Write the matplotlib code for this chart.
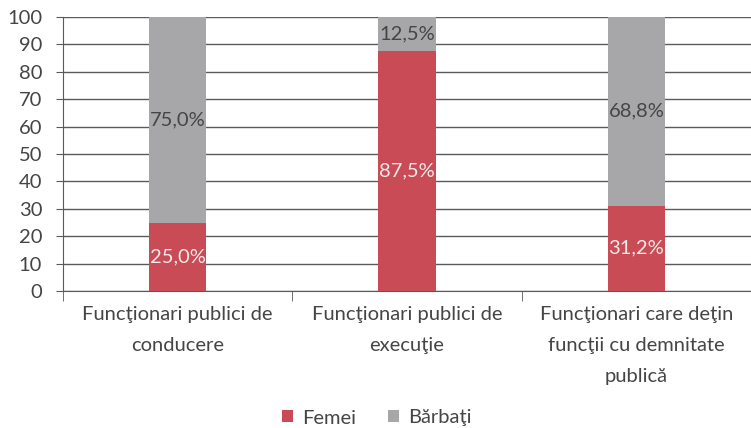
import matplotlib

matplotlib.use("Agg")
import matplotlib.pyplot as plt
import numpy as np

CATEGORIES = [
    "Funcţionari publici de\nconducere",
    "Funcţionari publici de\nexecuţie",
    "Funcţionari care deţin\nfuncţii cu demnitate\npublică",
]
FEMEI = [25.0, 87.5, 31.2]
BARBATI = [75.0, 12.5, 68.8]
SERIES_NAMES = ["Femei", "Bărbaţi"]
Y_TICKS = list(range(0, 101, 10))

RED = "#C84B55"
GRAY = "#A7A7AA"
GRID = "#5A5A5A"
TEXT = "#454545"

plt.rcParams["font.family"] = ["Lato", "DejaVu Sans"]

fig = plt.figure(figsize=(7.51, 4.28), dpi=100)
ax = fig.add_axes([63 / 751, 1 - 291 / 428, 688 / 751, 274 / 428])

x = np.arange(len(CATEGORIES))
w = 0.25
ax.bar(x, FEMEI, width=w, color=RED, zorder=3, label=SERIES_NAMES[0])
ax.bar(x, BARBATI, width=w, bottom=FEMEI, color=GRAY, zorder=3, label=SERIES_NAMES[1])

for xi, f, b in zip(x, FEMEI, BARBATI):
    ax.text(xi, f / 2, f"{f:.1f}%".replace(".", ","), ha="center", va="center",
            color="#F3E9EA", fontsize=14.5, zorder=4)
    ax.text(xi, f + b / 2, f"{b:.1f}%".replace(".", ","), ha="center", va="center",
            color=TEXT, fontsize=14.5, zorder=4)

ax.set_xlim(-0.5, 2.5)
ax.set_ylim(0, 100)
ax.set_yticks(Y_TICKS)
ax.set_yticklabels([str(t) for t in Y_TICKS], fontsize=14.5, color=TEXT)
ax.yaxis.grid(True, color=GRID, linewidth=1.0, zorder=1)
ax.set_axisbelow(True)

ax.set_xticks(x)
ax.set_xticklabels(CATEGORIES, fontsize=14.5, color=TEXT, linespacing=2.0)
ax.set_xticks([-0.5, 0.5, 1.5, 2.5], minor=True)
ax.tick_params(axis="x", which="major", length=0, pad=11)
ax.tick_params(axis="x", which="minor", length=7, color=GRID, direction="out")
ax.tick_params(axis="y", length=5, color=GRID, pad=10)

for s in ["top", "right"]:
    ax.spines[s].set_visible(False)
ax.spines["left"].set_color(GRID)
ax.spines["bottom"].set_color(GRID)

leg = ax.legend(loc="center", bbox_to_anchor=(377 / 751, 1 - 418 / 428),
                bbox_transform=fig.transFigure, ncol=2, frameon=False,
                fontsize=14.5, handlelength=0.55, handleheight=0.55,
                columnspacing=1.6, handletextpad=0.45)
for t in leg.get_texts():
    t.set_color(TEXT)

fig.savefig("out.png", dpi=100, facecolor="white")
